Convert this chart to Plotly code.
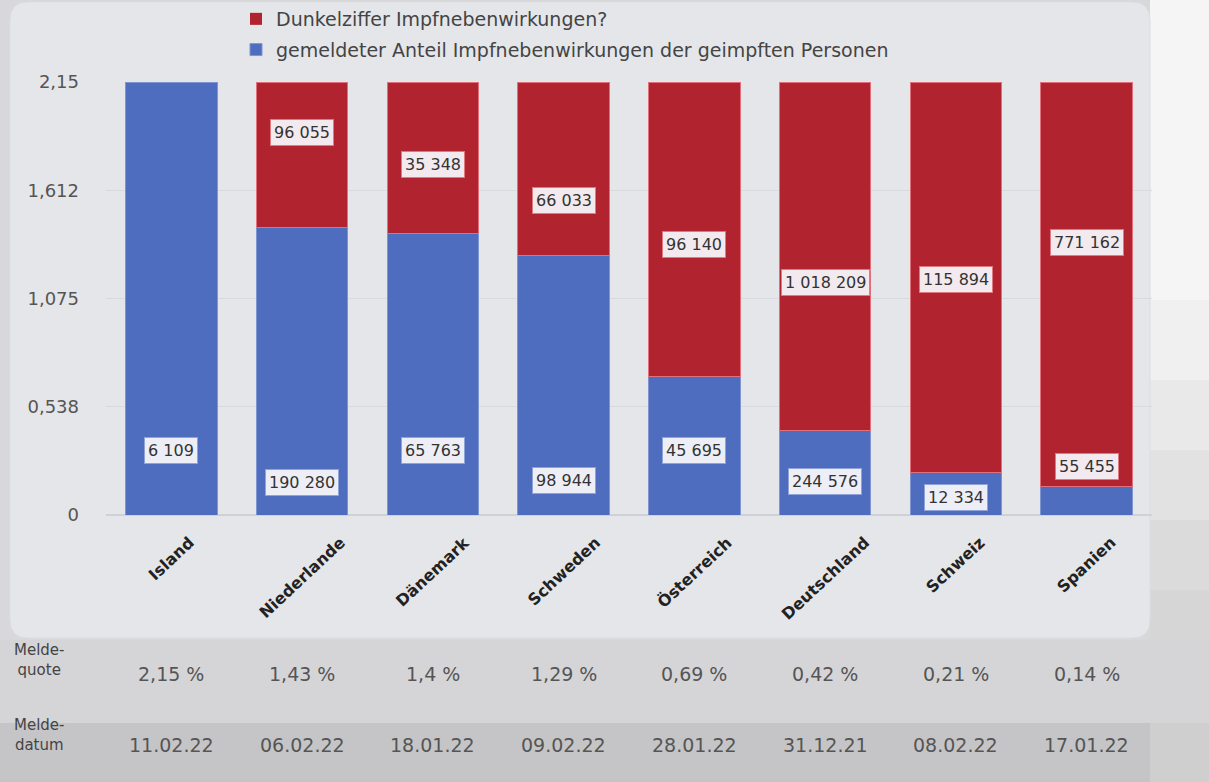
import plotly.graph_objects as go

# ---------------- data ----------------
countries = ["Island", "Niederlande", "Dänemark", "Schweden", "Österreich",
             "Deutschland", "Schweiz", "Spanien"]
reported_share = [2.15, 1.43, 1.40, 1.29, 0.69, 0.42, 0.21, 0.14]      # blue
dark_share = [0.00, 0.72, 0.75, 0.86, 1.46, 1.73, 1.94, 2.01]           # red
reported_counts = ["6 109", "190 280", "65 763", "98 944", "45 695",
                   "244 576", "12 334", "55 455"]
dark_counts = ["", "96 055", "35 348", "66 033", "96 140",
               "1 018 209", "115 894", "771 162"]
quote_labels = ["2,15 %", "1,43 %", "1,4 %", "1,29 %", "0,69 %",
                "0,42 %", "0,21 %", "0,14 %"]
date_labels = ["11.02.22", "06.02.22", "18.01.22", "09.02.22", "28.01.22",
               "31.12.21", "08.02.22", "17.01.22"]
y_tickvals = [0, 0.5375, 1.075, 1.6125, 2.15]
y_ticktext = ["0", "0,538", "1,075", "1,612", "2,15"]

# ---------------- layout helpers (label placement, pixels) ----------------
W, H = 1209, 782
L, R, T, B = 106, 1152, 82, 515
# vertical placement of value labels, in axis units (layout, not data)
blue_label_pos = [0.318, 0.159, 0.318, 0.169, 0.318, 0.164, 0.089, 0.243]
red_label_pos = [None, 1.897, 1.738, 1.564, 1.341, 1.152, 1.167, 1.351]


def px(x):
    return (x - L) / (R - L)


def py(y):
    return (B - y) / (B - T)


BLUE = "#4e6dbf"
RED = "#b0232f"
FONT = "DejaVu Sans"

fig = go.Figure()
fig.add_trace(go.Bar(
    x=countries, y=reported_share,
    name="gemeldeter Anteil Impfnebenwirkungen der geimpften Personen",
    legendgroup="g_blue", legendrank=2,
    marker=dict(color=BLUE, line=dict(color="#7f95d2", width=1)),
))
fig.add_trace(go.Bar(
    x=countries, y=dark_share, name="Dunkelziffer Impfnebenwirkungen?",
    legendgroup="g_red", legendrank=1,
    marker=dict(color=RED, line=dict(color="#e0707a",
                                     width=[0 if v == 0 else 1 for v in dark_share])),
))

shapes = []
# right-hand background (light top, greyer toward bottom)
bands = [(0, 300, "#f5f5f5"), (300, 380, "#f0f0f0"), (380, 450, "#e9e9e9"),
         (450, 520, "#e2e2e2"), (520, 590, "#dbdbdb"), (590, 640, "#d6d6d6")]
for a, b, col in bands:
    shapes.append(dict(type="rect", xref="paper", yref="paper", x0=px(1150), x1=px(W),
                       y0=py(a), y1=py(b), fillcolor=col, line_width=0, layer="below"))
# main rounded panel
x0, x1, y0, y1, r = 10, 1150, 2, 638, 18
path = (f"M {px(x0+r)},{py(y0)} L {px(x1-r)},{py(y0)} Q {px(x1)},{py(y0)} {px(x1)},{py(y0+r)} "
        f"L {px(x1)},{py(y1-r)} Q {px(x1)},{py(y1)} {px(x1-r)},{py(y1)} "
        f"L {px(x0+r)},{py(y1)} Q {px(x0)},{py(y1)} {px(x0)},{py(y1-r)} "
        f"L {px(x0)},{py(y0+r)} Q {px(x0)},{py(y0)} {px(x0+r)},{py(y0)} Z")
shapes.append(dict(type="path", xref="paper", yref="paper", path=path,
                   fillcolor="#e5e6e9", line=dict(color="#dcdde0", width=1), layer="below"))
# table rows
shapes.append(dict(type="rect", xref="paper", yref="paper", x0=px(0), x1=px(W), y0=py(640), y1=py(723),
                   fillcolor="#d5d5d7", line_width=0, layer="below"))
shapes.append(dict(type="rect", xref="paper", yref="paper", x0=px(0), x1=px(1150), y0=py(723), y1=py(H),
                   fillcolor="#c5c5c7", line_width=0, layer="below"))
shapes.append(dict(type="rect", xref="paper", yref="paper", x0=px(1150), x1=px(W), y0=py(723), y1=py(H),
                   fillcolor="#cfcfd0", line_width=0, layer="below"))

annotations = []
for i, c in enumerate(countries):
    annotations.append(dict(
        x=c, y=blue_label_pos[i], xref="x", yref="y", text=reported_counts[i], showarrow=False,
        font=dict(family=FONT, size=16, color="#333"), bgcolor="rgba(246,246,249,0.95)",
        bordercolor="#8fa3d8" if i != 7 else "#e07a82", borderwidth=1, borderpad=3))
    if dark_counts[i]:
        annotations.append(dict(
            x=c, y=red_label_pos[i], xref="x", yref="y", text=dark_counts[i], showarrow=False,
            font=dict(family=FONT, size=16, color="#333"), bgcolor="rgba(246,246,249,0.95)",
            bordercolor="#e07a82", borderwidth=1, borderpad=3))
    # rotated category labels (centred under each bar)
    annotations.append(dict(
        x=c, y=py(530), xref="x", yref="paper", text=c, showarrow=False, textangle=-43,
        xanchor="center", yanchor="top",
        font=dict(family=FONT, size=16, color="#222", weight="bold")))
    annotations.append(dict(
        x=c, y=py(687), xref="x", yref="paper", text=quote_labels[i], showarrow=False,
        font=dict(family=FONT, size=19, color="#555")))
    annotations.append(dict(
        x=c, y=py(758), xref="x", yref="paper", text=date_labels[i], showarrow=False,
        font=dict(family=FONT, size=19, color="#555")))

annotations.append(dict(x=px(12), y=py(681), xref="paper", yref="paper", xanchor="left",
                        text="Melde-<br>quote", showarrow=False, align="center",
                        font=dict(family=FONT, size=15, color="#444")))
annotations.append(dict(x=px(12), y=py(756), xref="paper", yref="paper", xanchor="left",
                        text="Melde-<br>datum", showarrow=False, align="center",
                        font=dict(family=FONT, size=15, color="#444")))

fig.update_layout(
    width=W, height=H, autosize=False,
    margin=dict(l=L, r=W - R, t=T, b=H - B, pad=0, autoexpand=False),
    barmode="stack", bargap=0.3,
    paper_bgcolor="#d8d8da", plot_bgcolor="rgba(0,0,0,0)",
    font=dict(family=FONT, color="#333"),
    shapes=shapes, annotations=annotations,
    legend=dict(xref="container", yref="container", x=236 / W, y=1.0,
                xanchor="left", yanchor="top", orientation="v",
                traceorder="grouped", tracegroupgap=3, bgcolor="rgba(0,0,0,0)",
                font=dict(family=FONT, size=19, color="#444"), itemwidth=30),
    xaxis=dict(showticklabels=False, showgrid=False, showline=False, ticks=""),
    yaxis=dict(range=[0, 2.15], tickvals=y_tickvals, ticktext=y_ticktext,
               tickfont=dict(family=FONT, size=18, color="#555"), showgrid=True,
               gridcolor="#d9dae0", gridwidth=1, zeroline=True, zerolinecolor="#d0d1d6",
               ticklabelstandoff=26),
)

fig.write_html("out.html")
